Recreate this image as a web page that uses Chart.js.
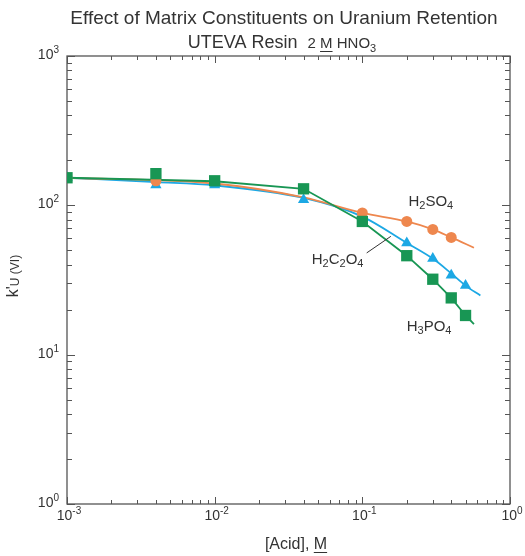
<!DOCTYPE html>
<html>
<head>
<meta charset="utf-8">
<script src="https://cdn.jsdelivr.net/npm/chart.js@4/dist/chart.umd.min.js"></script>
<style>
  html, body { margin: 0; padding: 0; background: #fff; }
  #wrap { width: 525px; height: 556px; }
</style>
</head>
<body>
<div id="wrap"><canvas id="chart_1" width="525" height="556"></canvas></div>
<script>
// data
const acidX = [0.001, 0.004, 0.01, 0.04, 0.1, 0.2, 0.3, 0.4, 0.5];
const h3po4 = [153, 163, 146, 129, 78, 46, 32, 24, 18.3];
const h2so4X = [0.001, 0.004, 0.1, 0.2, 0.3, 0.4];
const h2so4 = [153, 146, 89, 78, 69, 61];
const h2c2o4X = [0.001, 0.004, 0.01, 0.04, 0.2, 0.3, 0.4, 0.5];
const h2c2o4 = [153, 137, 137, 109, 56, 44, 34, 29];
// fitted curves
const h3po4FitX = [0.001, 0.01, 0.04, 0.1, 0.2, 0.3, 0.4, 0.5, 0.57];
const h3po4Fit = [153, 145, 129, 78, 46, 32, 24, 18.3, 16];
const h2so4FitX = [0.001, 0.01, 0.04, 0.1, 0.2, 0.3, 0.4, 0.57];
const h2so4Fit = [153, 140, 113, 89, 78, 69, 61, 52];
const h2c2o4FitX = [0.001, 0.004, 0.01, 0.04, 0.1, 0.2, 0.3, 0.4, 0.5, 0.63];
const h2c2o4Fit = [153, 143, 136, 112, 84, 56, 44, 35, 29, 24.9];
const xDecades = [-3, -2, -1, 0];
const yDecades = [0, 1, 2, 3];

const GREEN = "rgb(24,150,84)";
const ORANGE = "rgb(238,135,78)";
const BLUE = "rgb(28,168,228)";
const AXIS = "#555";
const FONT = "'Liberation Sans', Arial, sans-serif";

function pts(xs, ys) { return xs.map((x, i) => ({x: x, y: ys[i]})); }

// text with sub/superscript pieces
function richText(ctx, parts, x, y, align) {
    let w = 0;
    parts.forEach(p => { ctx.font = p.size + "px " + FONT; w += ctx.measureText(p.t).width; });
    let cx = align === "center" ? x - w / 2 : (align === "right" ? x - w : x);
    ctx.textAlign = "left";
    ctx.textBaseline = "alphabetic";
    parts.forEach(p => {
        ctx.font = p.size + "px " + FONT;
        const tw = ctx.measureText(p.t).width;
        ctx.fillText(p.t, cx, y + (p.dy || 0));
        if (p.u) ctx.fillRect(cx, y + 3, tw, 1);
        cx += tw;
    });
    return w;
}

const frame = {
    id: "frame",
    beforeDatasetsDraw(chart) {
        const ctx = chart.ctx, a = chart.chartArea;
        const xs = chart.scales.x, ys = chart.scales.y;
        ctx.save();
        ctx.strokeStyle = AXIS;
        ctx.lineWidth = 1.3;
        ctx.strokeRect(a.left, a.top, a.right - a.left, a.bottom - a.top);
        ctx.lineWidth = 1;
        ctx.beginPath();
        xDecades.forEach(d => {
            for (let m = 1; m <= 9; m++) {
                if (d === 0 && m > 1) break;
                const px = Math.round(xs.getPixelForValue(m * Math.pow(10, d))) + 0.5;
                const len = m === 1 ? 7 : 4;
                ctx.moveTo(px, a.bottom); ctx.lineTo(px, a.bottom - len);
                ctx.moveTo(px, a.top); ctx.lineTo(px, a.top + len);
            }
        });
        yDecades.forEach(d => {
            for (let m = 1; m <= 9; m++) {
                if (d === 3 && m > 1) break;
                const py = Math.round(ys.getPixelForValue(m * Math.pow(10, d))) + 0.5;
                const len = m === 1 ? 8 : 5;
                ctx.moveTo(a.left, py); ctx.lineTo(a.left + len, py);
                ctx.moveTo(a.right, py); ctx.lineTo(a.right - len, py);
            }
        });
        ctx.stroke();
        ctx.restore();
    },
    afterDraw(chart) {
        const ctx = chart.ctx, a = chart.chartArea;
        const xs = chart.scales.x, ys = chart.scales.y;
        ctx.save();
        ctx.fillStyle = "#333";
        // title
        richText(ctx, [{t: "Effect of Matrix Constituents on Uranium Retention", size: 19}], 284, 24, "center");
        richText(ctx, [
            {t: "UTEVA Resin  ", size: 18},
            {t: "2 ", size: 15},
            {t: "M", size: 15, u: true},
            {t: " HNO", size: 15},
            {t: "3", size: 11, dy: 4}
        ], 282, 48, "center");
        // tick labels
        xDecades.forEach(d => {
            const px = xs.getPixelForValue(Math.pow(10, d));
            richText(ctx, [{t: "10", size: 14}, {t: String(d), size: 10, dy: -6}], px + 2, 520, "center");
        });
        yDecades.forEach(d => {
            const py = ys.getPixelForValue(Math.pow(10, d));
            richText(ctx, [{t: "10", size: 14}, {t: String(d), size: 10, dy: -6}], a.left - 8, py + 3, "right");
        });
        // axis titles
        richText(ctx, [{t: "[Acid], ", size: 16}, {t: "M", size: 16, u: true}], 296, 549, "center");
        ctx.translate(18, 276);
        ctx.rotate(-Math.PI / 2);
        richText(ctx, [{t: "k'", size: 16}, {t: "U (VI)", size: 12, dy: 1}], 0, 0, "center");
        ctx.setTransform(chart.currentDevicePixelRatio, 0, 0, chart.currentDevicePixelRatio, 0, 0);
        // curve labels
        const lab = (parts, x, y) => richText(ctx, parts, xs.getPixelForValue(x), ys.getPixelForValue(y), "center");
        lab([{t: "H", size: 15}, {t: "2", size: 11, dy: 3}, {t: "SO", size: 15}, {t: "4", size: 11, dy: 3}], 0.291, 99);
        lab([{t: "H", size: 15}, {t: "2", size: 11, dy: 3}, {t: "C", size: 15}, {t: "2", size: 11, dy: 3}, {t: "O", size: 15}, {t: "4", size: 11, dy: 3}], 0.068, 40.7);
        lab([{t: "H", size: 15}, {t: "3", size: 11, dy: 3}, {t: "PO", size: 15}, {t: "4", size: 11, dy: 3}], 0.283, 14.5);
        // leader line
        ctx.strokeStyle = "#333";
        ctx.lineWidth = 1;
        ctx.beginPath();
        ctx.moveTo(xs.getPixelForValue(0.107), ys.getPixelForValue(48));
        ctx.lineTo(xs.getPixelForValue(0.156), ys.getPixelForValue(62));
        ctx.stroke();
        ctx.restore();
    }
};

const marker = (label, xs, ys, color, style, r) => ({
    label: label, data: pts(xs, ys), showLine: false,
    pointStyle: style, pointRadius: r, pointBackgroundColor: color,
    pointBorderColor: color, pointBorderWidth: 0
});
const curve = (label, xs, ys, color, mode) => ({
    label: label, data: pts(xs, ys), borderColor: color, borderWidth: 1.8,
    pointRadius: 0, fill: false,
    tension: mode ? 0.4 : 0, cubicInterpolationMode: mode ? "monotone" : "default"
});

new Chart(document.getElementById("chart_1"), {
    type: "line",
    data: {
        datasets: [
            marker("H3PO4", acidX, h3po4, GREEN, "rect", 8),
            marker("H2SO4", h2so4X, h2so4, ORANGE, "circle", 5.5),
            marker("H2C2O4", h2c2o4X, h2c2o4, BLUE, "triangle", 6.5),
            curve("H3PO4 fit", h3po4FitX, h3po4Fit, GREEN, false),
            curve("H2SO4 fit", h2so4FitX, h2so4Fit, ORANGE, true),
            curve("H2C2O4 fit", h2c2o4FitX, h2c2o4Fit, BLUE, true)
        ]
    },
    options: {
        responsive: false,
        animation: false,
        devicePixelRatio: 1,
        layout: { padding: { left: 67, top: 56, right: 15, bottom: 52 } },
        plugins: { legend: { display: false }, tooltip: { enabled: false } },
        scales: {
            x: { type: "logarithmic", min: 0.001, max: 1, display: false },
            y: { type: "logarithmic", min: 1, max: 1000, display: false }
        }
    },
    plugins: [frame]
});
</script>
</body>
</html>
